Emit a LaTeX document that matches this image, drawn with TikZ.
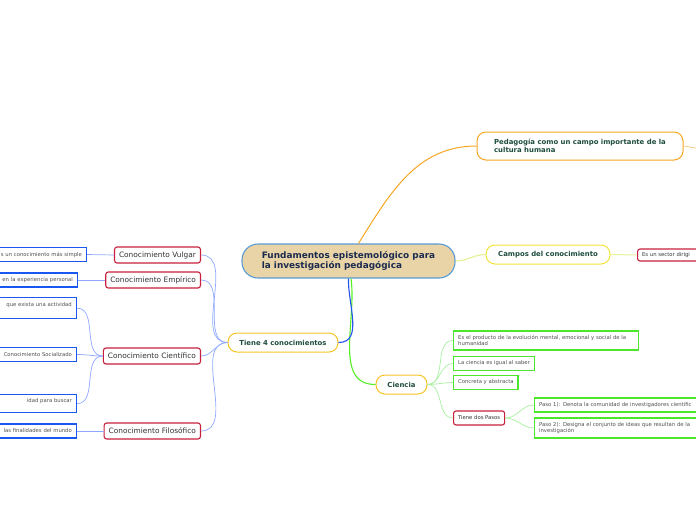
\documentclass[tikz,border=0pt]{standalone}
\usepackage{fontspec}
\setmainfont{DejaVu Sans}
\usetikzlibrary{positioning}
\definecolor{raizfondo}{HTML}{E9D4A7}
\definecolor{raizborde}{HTML}{5A9BD5}
\definecolor{raiztexto}{HTML}{1B2A4E}
\definecolor{naranja}{HTML}{F5A623}
\definecolor{amarillo}{HTML}{F2E33A}
\definecolor{oro}{HTML}{F7C325}
\definecolor{verdeosc}{HTML}{1E4D3B}
\definecolor{rojo}{HTML}{C8203C}
\definecolor{azul}{HTML}{1A56F0}
\definecolor{verde}{HTML}{4CE62C}
\definecolor{azulclaro}{HTML}{8FA9FF}
\definecolor{azulfuerte}{HTML}{2255EE}
\definecolor{verdefuerte}{HTML}{55EE22}
\definecolor{verdeclaro}{HTML}{A8F0A0}
\definecolor{amarclaro}{HTML}{E8F09A}
\definecolor{gristexto}{HTML}{505050}
\tikzset{
  raiz/.style={
      rectangle,
      rounded corners=16pt,
      line width=1.1pt,
      draw=raizborde,
      fill=raizfondo,
      text=raiztexto,
      font=\fontsize{8.9}{10.5}\selectfont\bfseries,
      align=left,
      minimum width=213pt,
      minimum height=34pt
  },
  tema/.style={
      rectangle,
      rounded corners=9pt,
      line width=1pt,
      draw=oro,
      fill=white,
      text=verdeosc,
      font=\fontsize{6.9}{8}\selectfont\bfseries,
      align=left,
      minimum height=19pt
  },
  rama/.style={
      rectangle,
      rounded corners=2.5pt,
      line width=1.1pt,
      draw=rojo,
      fill=white,
      text=black!80,
      font=\fontsize{7.4}{8.6}\selectfont,
      inner xsep=4.5pt,
      minimum height=16pt
  },
  ramita/.style={
      rama,
      font=\fontsize{5.3}{6.5}\selectfont,
      minimum height=14pt
  },
  hoja/.style={
      rectangle,
      line width=1.3pt,
      fill=white,
      text=gristexto,
      font=\fontsize{5.3}{6.6}\selectfont,
      inner xsep=4.5pt,
      minimum height=14pt
  },
  hojaazul/.style={
      hoja,
      draw=azul,
      text width=110pt,
      align=right
  },
  hojaverde/.style={
      hoja,
      draw=verde,
      align=left
  }
}

\begin{document}
\begin{tikzpicture}[x=1pt,y=-1pt]
    \useasboundingbox (0,0) rectangle (696,520);
    \clip (0,0) rectangle (696,520);
    % nodos principales
    \node[raiz] (fund) at (348.5,261) {Fundamentos epistemológico para\\la investigación pedagógica};
    \node[tema,draw=naranja,minimum width=206pt,minimum height=28pt] (pedagogia) at (580,146) {Pedagogía como un campo importante de la\\cultura humana};
    \node[tema,draw=amarillo,minimum width=124pt] (campos) at (548,254.5) {Campos del conocimiento};
    \node[tema,minimum width=110pt] (tiene) at (283,342.5) {Tiene 4 conocimientos};
    \node[tema,minimum width=51pt] (ciencia) at (401.5,384.5) {Ciencia};
    % ramas de la izquierda
    \node[rama,anchor=east] (vulgar) at (201,255) {Conocimiento Vulgar};
    \node[rama,anchor=east] (empirico) at (201,280) {Conocimiento Empírico};
    \node[rama,anchor=east] (cientifico) at (201,356) {Conocimiento Científico};
    \node[rama,anchor=east] (filosofico) at (201,431) {Conocimiento Filosófico};
    \node[hojaazul,anchor=east] (vulgarnota) at (87,254.5) {s un conocimiento más simple};
    \node[hojaazul,anchor=east] (empiriconota) at (78,280) {en la experiencia personal};
    \node[hojaazul,anchor=north east,minimum height=21pt] (actividad) at (77,297) {que exista una actividad\\\mbox{}};
    \node[hojaazul,anchor=east] (socializado) at (77,354.5) {Conocimiento Socializado};
    \node[hojaazul,anchor=north east,minimum height=18pt] (buscar) at (77,394) {idad para buscar\\\mbox{}};
    \node[hojaazul,anchor=east] (finalidades) at (77,431) {las finalidades del mundo};
    % ramas de la derecha
    \node[ramita,anchor=west,minimum height=12pt,text width=90pt,align=left] (sector) at (637,255) {Es un sector dirigi};
    \node[hojaverde,text width=176pt,anchor=west,minimum height=19pt] (producto) at (453,340.5) {Es el producto de la evolución mental, emocional y social de la\\humanidad};
    \node[hojaverde,anchor=west] (saber) at (453,363.5) {La ciencia es igual al saber};
    \node[hojaverde,anchor=west] (concreta) at (453,382.5) {Concreta y abstracta};
    \node[ramita,anchor=west] (pasos) at (453,418) {Tiene dos Pasos};
    \node[hojaverde,text width=240pt,anchor=west] (paso1) at (534,405) {Paso 1): Denota la comunidad de investigadores científic};
    \node[hojaverde,text width=240pt,anchor=west,minimum height=20pt] (paso2) at (534,428) {Paso 2): Designa el conjunto de ideas que resultan de la\\investigación};
    % conectores
    \draw[naranja,line width=1pt] ([xshift=10pt]fund.north) to[out=58,in=180] (pedagogia.west);
    \draw[naranja!60,line width=0.8pt] (pedagogia.east) to[out=0,in=180] (696,148);
    \draw[amarclaro,line width=1.2pt] (fund.east) to[out=0,in=180] (campos.west);
    \draw[amarclaro,line width=1pt] (campos.east) -- (sector.west);
    \draw[verdefuerte,line width=1.1pt] ([xshift=2.5pt]fund.south) to[out=-82,in=180] (ciencia.west);
    \draw[azulfuerte,line width=1.1pt] ([xshift=0pt]fund.south) to[out=-92,in=0] (tiene.east);
    \foreach \r in {vulgar,empirico,cientifico,filosofico}
      \draw[azulclaro,line width=0.7pt] (tiene.west) to[out=180,in=0] (\r.east);
    \draw[azulclaro,line width=0.7pt] (vulgar.west) -- (vulgarnota.east);
    \draw[azulclaro,line width=0.7pt] (empirico.west) -- (empiriconota.east);
    \draw[azulclaro,line width=0.7pt] (filosofico.west) -- (finalidades.east);
    \foreach \h in {actividad,socializado,buscar}
      \draw[azulclaro,line width=0.7pt] (cientifico.west) to[out=180,in=0] (\h.east);
    \foreach \h in {producto,saber,concreta,pasos}
      \draw[verdeclaro,line width=0.7pt] (ciencia.east) to[out=0,in=180] (\h.west);
    \foreach \h in {paso1,paso2}
      \draw[verdeclaro,line width=0.7pt] (pasos.east) to[out=0,in=180] (\h.west);
\end{tikzpicture}
\end{document}
